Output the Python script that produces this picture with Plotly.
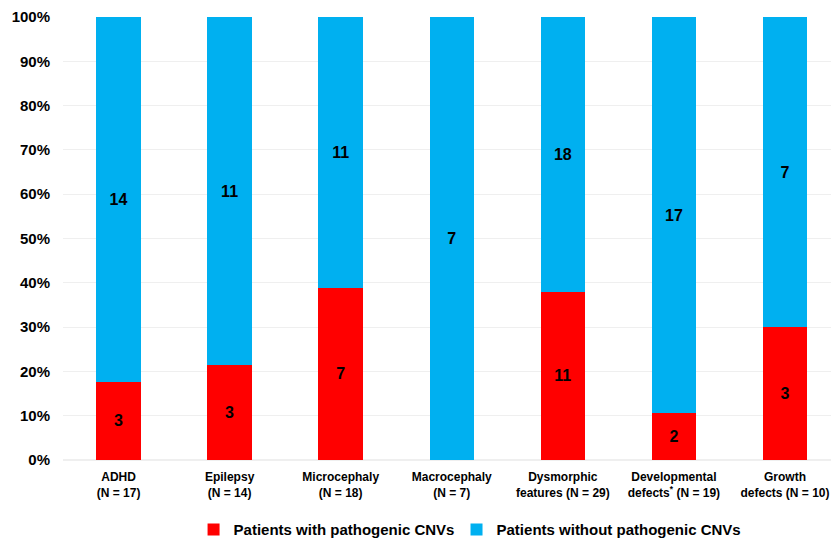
import plotly.graph_objects as go

categories = ["ADHD<br>(N = 17)", "Epilepsy<br>(N = 14)", "Microcephaly<br>(N = 18)",
              "Macrocephaly<br>(N = 7)", "Dysmorphic<br>features (N = 29)",
              "Developmental<br>defects<sup>*</sup> (N = 19)", "Growth<br>defects (N = 10)"]
with_cnv = [3, 3, 7, 0, 11, 2, 3]
without_cnv = [14, 11, 11, 7, 18, 17, 7]
y_ticks = list(range(0, 101, 10))
y_tick_labels = [f"{v}%" for v in y_ticks]

RED = "#FF0000"
BLUE = "#00B0F0"
FONT = "Liberation Sans, Arial, sans-serif"

fig = go.Figure()
fig.add_trace(go.Bar(
    x=categories, y=with_cnv, name="Patients with pathogenic CNVs",
    marker=dict(color=RED, line=dict(width=0)),
    text=[str(v) if v else "" for v in with_cnv],
    textposition="inside", insidetextanchor="middle",
    textfont=dict(family=FONT, size=16, color="black", weight="bold"),
    hoverinfo="skip", legend="legend",
))
fig.add_trace(go.Bar(
    x=categories, y=without_cnv, name="Patients without pathogenic CNVs",
    marker=dict(color=BLUE, line=dict(width=0)),
    text=[str(v) for v in without_cnv],
    textposition="inside", insidetextanchor="middle",
    textfont=dict(family=FONT, size=16, color="black", weight="bold"),
    hoverinfo="skip", legend="legend2",
))

legend_font = dict(family=FONT, size=15, color="black", weight="bold")
fig.update_layout(
    width=831, height=550,
    barmode="stack", barnorm="percent", bargap=0.6,
    plot_bgcolor="white", paper_bgcolor="white",
    margin=dict(l=63, r=0, t=17, b=90),
    font=dict(family=FONT, color="black"),
    showlegend=True,
    legend=dict(orientation="h", x=0.17, xanchor="left", y=-0.12, yanchor="top",
                font=legend_font, itemwidth=30),
    legend2=dict(orientation="h", x=0.5124, xanchor="left", y=-0.12, yanchor="top",
                 font=legend_font, itemwidth=30),
)
fig.update_xaxes(range=[-0.5, 6.414], showgrid=False, showline=False, ticks="",
                 ticklabelstandoff=8,
                 tickfont=dict(family=FONT, size=12, color="black", weight="bold"))
fig.update_yaxes(range=[0, 100], tickmode="array", tickvals=y_ticks, ticktext=y_tick_labels,
                 showgrid=True, gridcolor="#EFEFEF", gridwidth=1,
                 zeroline=True, zerolinecolor="#EFEFEF", showline=False,
                 ticklabelstandoff=12,
                 tickfont=dict(family=FONT, size=15, color="black", weight="bold"))

fig.write_html("out.html")
